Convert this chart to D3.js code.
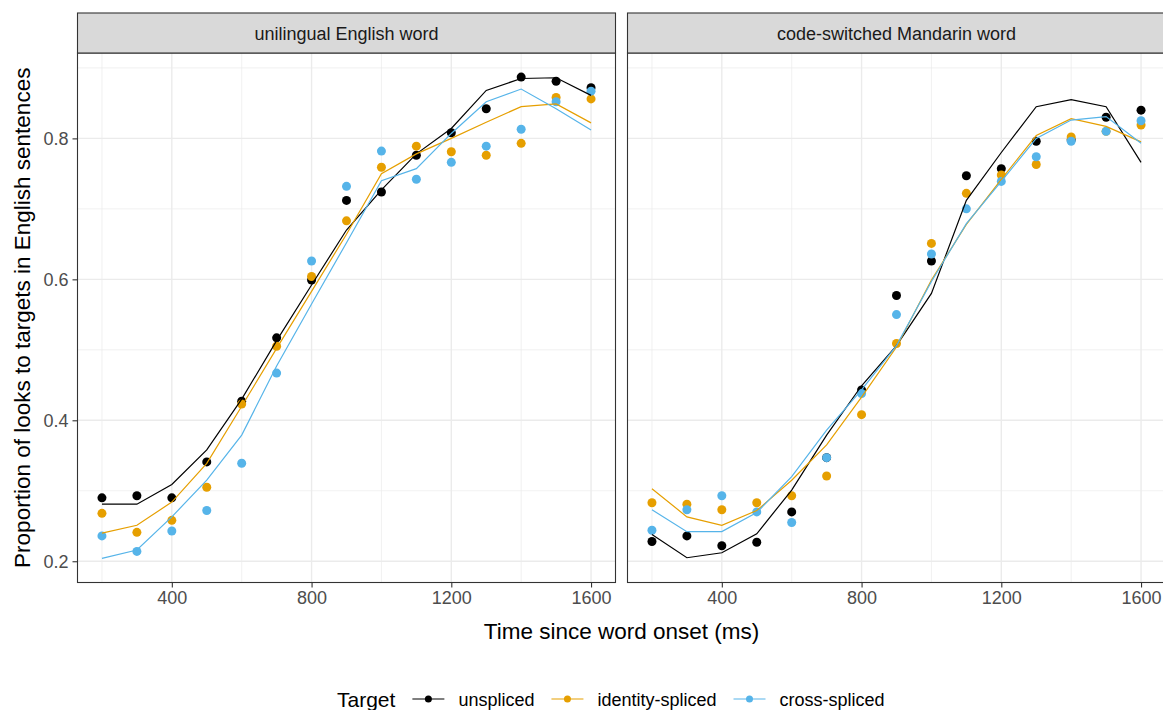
<!DOCTYPE html>
<meta charset="UTF-8">

<head>
    <title>Proportion of looks to targets</title>
</head>
<style>
    body {
        margin: 0;
        background: white;
    }

    text {
        font-family: "Liberation Sans", Arial, sans-serif;
    }
</style>

<body>
    <div id="chart"></div>

    <script src="https://d3js.org/d3.v7.min.js"></script>
    <script type="text/javascript">

        // data
        var times = [200, 300, 400, 500, 600, 700, 800, 900, 1000, 1100, 1200, 1300, 1400, 1500, 1600];
        var targets = ["unspliced", "identity-spliced", "cross-spliced"];
        var panelNames = ["unilingual English word", "code-switched Mandarin word"];
        var xTicks = [400, 800, 1200, 1600];
        var xMinor = [200, 600, 1000, 1400];
        var yTicks = [0.2, 0.4, 0.6, 0.8];
        var yMinor = [0.3, 0.5, 0.7, 0.9];

        // observed proportions (dots)
        var engUnspliced = [0.290, 0.293, 0.290, 0.341, 0.427, 0.517, 0.599, 0.712, 0.724, 0.776, 0.808, 0.842, 0.887, 0.881, 0.872];
        var engIdentity = [0.268, 0.241, 0.258, 0.305, 0.423, 0.505, 0.604, 0.683, 0.759, 0.789, 0.781, 0.776, 0.793, 0.858, 0.856];
        var engCross = [0.236, 0.214, 0.243, 0.272, 0.339, 0.467, 0.626, 0.732, 0.782, 0.742, 0.766, 0.789, 0.813, 0.852, 0.867];
        var manUnspliced = [0.228, 0.236, 0.222, 0.227, 0.270, 0.347, 0.443, 0.577, 0.626, 0.747, 0.757, 0.796, 0.798, 0.830, 0.840];
        var manIdentity = [0.283, 0.281, 0.273, 0.283, 0.293, 0.321, 0.408, 0.509, 0.651, 0.722, 0.748, 0.763, 0.802, 0.810, 0.819];
        var manCross = [0.244, 0.273, 0.293, 0.270, 0.255, 0.347, 0.438, 0.550, 0.636, 0.700, 0.739, 0.774, 0.796, 0.810, 0.825];

        // model fits (lines)
        var engUnsplicedFit = [0.281, 0.281, 0.309, 0.358, 0.430, 0.513, 0.592, 0.670, 0.727, 0.778, 0.814, 0.868, 0.885, 0.886, 0.861];
        var engIdentityFit = [0.240, 0.251, 0.284, 0.339, 0.420, 0.502, 0.583, 0.664, 0.750, 0.778, 0.800, 0.823, 0.845, 0.849, 0.822];
        var engCrossFit = [0.204, 0.216, 0.263, 0.315, 0.379, 0.477, 0.565, 0.652, 0.740, 0.757, 0.807, 0.852, 0.870, 0.842, 0.812];
        var manUnsplicedFit = [0.238, 0.205, 0.212, 0.239, 0.301, 0.379, 0.449, 0.506, 0.580, 0.712, 0.780, 0.845, 0.855, 0.845, 0.766];
        var manIdentityFit = [0.303, 0.263, 0.251, 0.272, 0.315, 0.365, 0.433, 0.504, 0.599, 0.678, 0.742, 0.804, 0.828, 0.817, 0.795];
        var manCrossFit = [0.273, 0.242, 0.242, 0.269, 0.320, 0.386, 0.443, 0.506, 0.597, 0.679, 0.739, 0.800, 0.826, 0.831, 0.793];

        var colors = ["#000000", "#E69F00", "#56B4E9"];

        var panels = [
            { name: panelNames[0], dots: [engUnspliced, engIdentity, engCross], fits: [engUnsplicedFit, engIdentityFit, engCrossFit] },
            { name: panelNames[1], dots: [manUnspliced, manIdentity, manCross], fits: [manUnsplicedFit, manIdentityFit, manCrossFit] }
        ];

        //Width and height
        var w = 1163;
        var h = 710;
        var panelLeft = [77.5, 627.5];
        var panelW = 538;
        var stripTop = 13;
        var plotTop = 53;
        var plotBottom = 582.5;

        var svg = d3.select("#chart")
            .append("svg")
            .attr("width", w)
            .attr("height", h);

        svg.append("rect").attr("width", w).attr("height", h).attr("fill", "white");

        // ggplot style 5% expansion
        var xExp = (1600 - 200) * 0.05;
        var x = d3.scaleLinear().domain([200 - xExp, 1600 + xExp]).range([0, panelW]);

        var allVals = [];
        panels.forEach(function (p) {
            p.dots.concat(p.fits).forEach(function (s) { allVals = allVals.concat(s); });
        });
        var yMin = d3.min(allVals), yMax = d3.max(allVals);
        var yExp = (yMax - yMin) * 0.05;
        var y = d3.scaleLinear().domain([yMin - yExp, yMax + yExp]).range([plotBottom, plotTop]);

        var line = d3.line()
            .x(function (d, i) { return x(times[i]); })
            .y(function (d) { return y(d); });

        panels.forEach(function (p, pi) {
            var g = svg.append("g").attr("transform", "translate(" + panelLeft[pi] + ",0)");

            // grid
            g.selectAll(".xminor").data(xMinor).enter().append("line")
                .attr("x1", function (d) { return x(d); }).attr("x2", function (d) { return x(d); })
                .attr("y1", plotTop).attr("y2", plotBottom)
                .attr("stroke", "#ebebeb").attr("stroke-width", 0.7);
            g.selectAll(".yminor").data(yMinor).enter().append("line")
                .attr("x1", 0).attr("x2", panelW)
                .attr("y1", function (d) { return y(d); }).attr("y2", function (d) { return y(d); })
                .attr("stroke", "#ebebeb").attr("stroke-width", 0.7);
            g.selectAll(".xmajor").data(xTicks).enter().append("line")
                .attr("x1", function (d) { return x(d); }).attr("x2", function (d) { return x(d); })
                .attr("y1", plotTop).attr("y2", plotBottom)
                .attr("stroke", "#ebebeb").attr("stroke-width", 1.4);
            g.selectAll(".ymajor").data(yTicks).enter().append("line")
                .attr("x1", 0).attr("x2", panelW)
                .attr("y1", function (d) { return y(d); }).attr("y2", function (d) { return y(d); })
                .attr("stroke", "#ebebeb").attr("stroke-width", 1.4);

            // dots first, fitted lines on top
            p.dots.forEach(function (s, si) {
                g.selectAll(".dot" + si).data(s).enter().append("circle")
                    .attr("cx", function (d, i) { return x(times[i]); })
                    .attr("cy", function (d) { return y(d); })
                    .attr("r", 4.5)
                    .attr("fill", colors[si]);
            });
            p.fits.forEach(function (s, si) {
                g.append("path")
                    .datum(s)
                    .attr("d", line)
                    .attr("fill", "none")
                    .attr("stroke", colors[si])
                    .attr("stroke-width", 1.2);
            });

            // panel border
            g.append("rect")
                .attr("x", 0).attr("y", plotTop)
                .attr("width", panelW).attr("height", plotBottom - plotTop)
                .attr("fill", "none").attr("stroke", "#333333").attr("stroke-width", 1.1);

            // strip
            g.append("rect")
                .attr("x", 0).attr("y", stripTop)
                .attr("width", panelW).attr("height", plotTop - stripTop)
                .attr("fill", "#d9d9d9").attr("stroke", "#333333").attr("stroke-width", 1.1);
            g.append("text")
                .attr("x", panelW / 2).attr("y", 39.5)
                .attr("text-anchor", "middle")
                .attr("font-size", 18)
                .attr("fill", "#1a1a1a")
                .text(p.name);

            // x axis
            var xAxis = g.append("g")
                .attr("transform", "translate(0," + plotBottom + ")")
                .call(d3.axisBottom(x).tickValues(xTicks).tickSize(5).tickPadding(4).tickFormat(d3.format("d")));
            xAxis.select(".domain").remove();
            xAxis.selectAll("line").attr("stroke", "#333333").attr("stroke-width", 1.1);
            xAxis.selectAll("text").attr("font-size", 18).attr("fill", "#4d4d4d")
                .attr("font-family", "Liberation Sans, Arial, sans-serif");

            // y axis only on the first panel
            if (pi === 0) {
                var yAxis = g.append("g")
                    .call(d3.axisLeft(y).tickValues(yTicks).tickSize(5).tickPadding(4).tickFormat(d3.format(".1f")));
                yAxis.select(".domain").remove();
                yAxis.selectAll("line").attr("stroke", "#333333").attr("stroke-width", 1.1);
                yAxis.selectAll("text").attr("font-size", 18).attr("fill", "#4d4d4d")
                    .attr("font-family", "Liberation Sans, Arial, sans-serif");
            }
        });

        // axis titles
        svg.append("text")
            .attr("x", (panelLeft[0] + panelLeft[1] + panelW) / 2)
            .attr("y", 638.5)
            .attr("text-anchor", "middle")
            .attr("font-size", 22.5)
            .attr("fill", "black")
            .text("Time since word onset (ms)");

        svg.append("text")
            .attr("transform", "translate(30," + (plotTop + plotBottom) / 2 + ") rotate(-90)")
            .attr("text-anchor", "middle")
            .attr("font-size", 22.5)
            .attr("fill", "black")
            .text("Proportion of looks to targets in English sentences");

        // legend
        var legend = svg.append("g");
        var lx = 337;
        var title = legend.append("text")
            .attr("x", lx).attr("y", 707)
            .attr("font-size", 21)
            .text("Target");
        lx += title.node().getComputedTextLength() + 17;
        targets.forEach(function (t, i) {
            legend.append("line")
                .attr("x1", lx).attr("x2", lx + 32)
                .attr("y1", 699).attr("y2", 699)
                .attr("stroke", colors[i]).attr("stroke-width", 1.2);
            legend.append("circle")
                .attr("cx", lx + 16).attr("cy", 699).attr("r", 3.5)
                .attr("fill", colors[i]);
            lx += 32 + 14;
            var label = legend.append("text")
                .attr("x", lx).attr("y", 705.5)
                .attr("font-size", 18)
                .text(t);
            lx += label.node().getComputedTextLength() + 17;
        });

    </script>
</body>

</html>
